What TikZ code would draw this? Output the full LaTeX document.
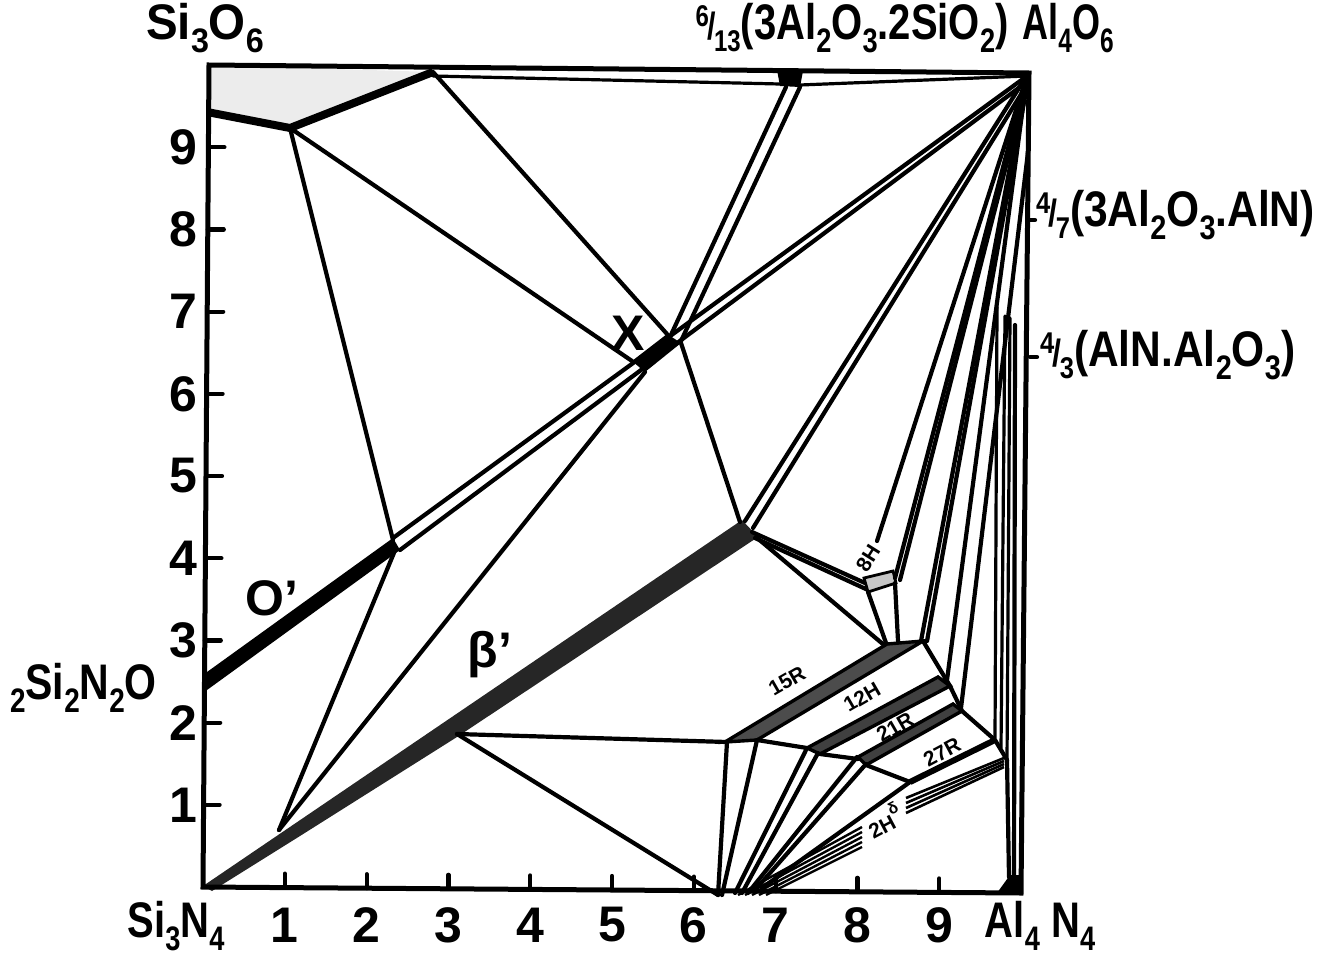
\documentclass[tikz,border=0pt]{standalone}
\usepackage{fontspec}
\setmainfont{Liberation Sans}
\newcommand\sbs[1]{\raisebox{-0.5ex}{\fontsize{34}{34}\selectfont #1}}
\newcommand\frc[2]{\raisebox{0.5ex}{\fontsize{30}{30}\selectfont #1}\kern-2pt{\fontsize{38}{38}\selectfont/}\kern-2pt\raisebox{-0.45ex}{\fontsize{30}{30}\selectfont #2}}
\newcommand\nar[2]{\scalebox{#1}[1]{#2}}
\begin{document}
\begin{tikzpicture}[x=1pt,y=-1pt,
  ln/.style={line width=4.2pt,line cap=round,line join=round},
  tn/.style={line width=3.2pt,line cap=round,line join=round},
  lab/.style={font=\fontsize{50}{56}\selectfont\bfseries, inner sep=0pt},
  sml/.style={font=\fontsize{21}{23}\selectfont\bfseries, inner sep=0pt}]
\useasboundingbox (0,0) rectangle (1333,961);
% corners
\coordinate (TL) at (209,65);
\coordinate (TR) at (1029,73);
\coordinate (BR) at (1021,893);
\coordinate (BL) at (203,887);
\coordinate (C) at (1027,76);
% top-left region
\coordinate (Ttip) at (433,72);
\coordinate (Q) at (290,128);
\coordinate (Lb) at (207,112);
\fill[gray!15] (TL) -- (Ttip) -- (Q) -- (Lb) -- cycle;
\draw[line width=8pt,line join=round] (Ttip) -- (Q) -- (Lb);
% mullite
\fill (777,70) -- (803,71) -- (800,87) -- (780,86) -- cycle;
\draw[tn] (433,76) -- (780,84);
\draw[tn] (800,85) -- (C);
\draw[ln] (786,87) -- (670,337);
\draw[ln] (800,87) -- (681,341);
% X phase
\fill (632,361) -- (667,334) -- (681,343) -- (645,372) -- cycle;
% O' band
\fill (207,672) -- (393,538) -- (400,550) -- (207,690) -- cycle;
\draw[ln] (393,538) -- (C);
\draw[ln] (400,550) -- (1028,81);
\draw[ln] (Q) -- (393,540);
\draw[ln] (Q) -- (632,361);
\draw[ln] (Ttip) -- (667,334);
\coordinate (P1) at (279,830);
\draw[ln] (P1) -- (396,548);
\draw[ln] (P1) -- (645,372);
% beta' band
\fill[black!85] (203,886) -- (742,520) -- (758,537) -- (457,737) -- (300,836) -- (212,891) -- cycle;
\coordinate (P3) at (457,734);
\coordinate (B6) at (718,895);
\draw[ln] (P3) -- (727,742);
\draw[ln] (P3) -- (B6);
% from beta' end
\draw[ln] (740,522) -- (681,343);
\draw[ln] (745,521) -- (1026,77);
\draw[ln] (753,528) -- (1028,83);
\draw[ln] (752,532) -- (865,583);
\draw[ln] (755,538) -- (868,590);
\draw[ln] (756,537) -- (884,645);
% 8H
\filldraw[fill=gray!45,line width=2.8pt] (864,578) -- (893,571) -- (896,583) -- (868,592) -- cycle;
\draw[ln] (868,592) -- (886,643);
\draw[ln] (895,583) -- (898,641);
% fan from C
\draw[ln] (C) -- (877,541);
\draw[ln] (C) -- (895,578);
\draw[ln] (1028,80) -- (900,580);
\draw[ln] (C) -- (921,641);
\draw[ln] (1028,80) -- (927,641);
\draw[ln] (C) -- (947,680);
\draw[ln] (1028,152) -- (961,708);
% lines from 4/3 region
\draw[tn] (997,307) -- (995,738);
\draw[tn] (1005,316) -- (1001,748);
\draw[tn] (1010,318) -- (1007,760);
\draw[ln] (1015,325) -- (1014,880);
% polytypoid bands
\filldraw[fill=black!70,line width=3.4pt] (725,742) -- (887,644) -- (923,641) -- (757,740) -- cycle;
\filldraw[fill=black!75,line width=3.4pt] (807,748) -- (938,677) -- (950,686) -- (820,754) -- cycle;
\filldraw[fill=black!75,line width=3.4pt] (858,757) -- (953,704) -- (962,711) -- (866,765) -- cycle;
\draw[line width=6pt] (910,782) -- (995,740);
% chain right
\draw[ln] (923,641) -- (950,686);
\draw[ln] (950,686) -- (962,711);
\draw[ln] (962,711) -- (995,740);
\draw[ln] (995,740) -- (1007,760);
% chain left
\draw[ln] (757,740) -- (807,748);
\draw[ln] (820,754) -- (858,759);
\draw[ln] (866,765) -- (910,782);
% fan from bottom
\draw[ln] (B6) -- (727,742);
\draw[ln] (722,895) -- (757,740);
\draw[ln] (735,893) -- (807,748);
\draw[ln] (742,893) -- (818,753);
\draw[ln] (748,893) -- (857,757);
\draw[ln] (755,890) -- (866,764);
\draw[ln] (762,888) -- (910,782);
\foreach \i in {0,...,4} { \draw[line width=2.4pt] ({738+7*\i},895) -- (862,{827+5*\i}); }
\foreach \i in {0,...,3} { \draw[line width=2.6pt] (906,{798+5*\i}) -- (1004,{758+3*\i}); }
% right vertical
\draw[ln] (1007,760) -- (1009,877);
\fill (997,893) -- (1010,875) -- (1022,875) -- (1022,893) -- cycle;
% square
\draw[line width=5pt,line join=miter] (TL) -- (TR) -- (BR) -- (BL) -- cycle;
% ticks and labels
\foreach \k in {1,...,9} {
  \draw[ln] ({203+0.6*\k},{887-82.2*\k}) -- ++(16,0);
  \node[lab] (yl\k) at (183,{887-82.2*\k}) {\k};
  \draw[ln] ({203+81.8*\k},{887+0.6*\k}) -- ++(0,-14);
  \node[lab] (xl\k) at ({203+81.8*\k},925) {\k};
}
\draw[ln] (1028,220) -- (1035,220);
\draw[ln] (1030,357) -- (1037,357);
\node[lab] (si3o6) at (205,28) {\nar{0.95}{Si\sbs{3}O\sbs{6}}};
\node[lab] (mul) at (852,28) {\nar{0.8}{\frc{6}{13}(3Al\sbs{2}O\sbs{3}.2SiO\sbs{2})}};
\node[lab] (al4o6) at (1068,28) {\nar{0.72}{Al\sbs{4}O\sbs{6}}};
\node[lab,anchor=west] (r47) at (1036,215) {\nar{0.85}{\frc{4}{7}(3Al\sbs{2}O\sbs{3}.AlN)}};
\node[lab,anchor=west] (r43) at (1040,355) {\nar{0.85}{\frc{4}{3}(AlN.Al\sbs{2}O\sbs{3})}};
\node[lab,anchor=east] (si2n2o) at (157,688) {\nar{0.82}{\sbs{2}Si\sbs{2}N\sbs{2}O}};
\node[lab] (si3n4) at (176,926) {\nar{0.8}{Si\sbs{3}N\sbs{4}}};
\node[lab] (al4n4) at (1040,926) {\nar{0.8}{Al\sbs{4} N\sbs{4}}};
\node[lab] (op) at (272,598) {O’};
\node[lab] (bp) at (490,655) {β’};
\node[lab] (xp) at (628,333) {X};
\node[sml,rotate=30] (r15) at (787,681) {15R};
\node[sml,rotate=30] (h12) at (862,697) {12H};
\node[sml,rotate=30] (r21) at (895,727) {21R};
\node[sml,rotate=28] (r27) at (942,752) {27R};
\node[sml,rotate=58] (h8) at (868,558) {8H};
\node[sml,rotate=28] (h2) at (884,820) {2H\raisebox{1.2ex}{\fontsize{16}{16}\selectfont δ}};
\end{tikzpicture}
\end{document}
